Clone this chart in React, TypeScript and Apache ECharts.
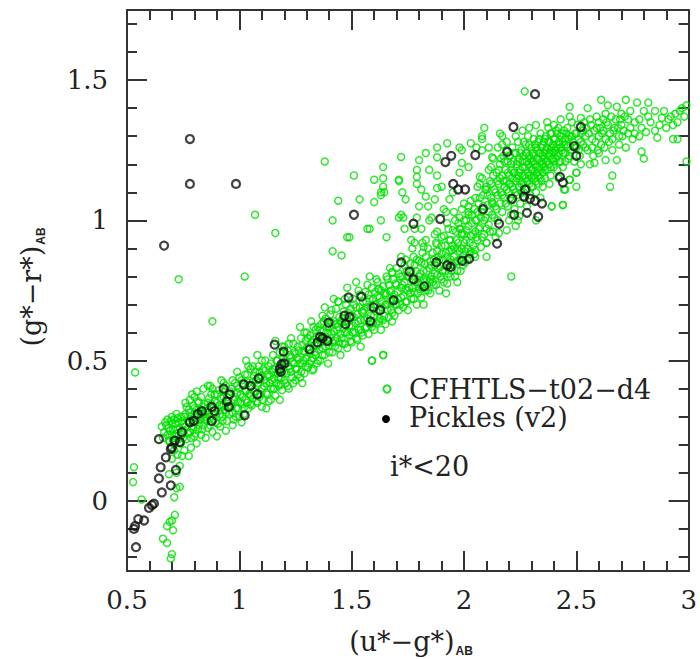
import React, { useEffect, useRef } from 'react';
import * as echarts from 'echarts';

// Axis ranges and ticks
const X_MIN = 0.5;
const X_MAX = 3;
const Y_MIN = -0.25;
const Y_MAX = 1.75;
const yMajorTicks = [0, 0.5, 1, 1.5];
const yMinorTicks = [-0.2, -0.1, 0.1, 0.2, 0.3, 0.4, 0.6, 0.7, 0.8, 0.9, 1.1, 1.2, 1.3, 1.4, 1.6, 1.7];

const legendLabels = ['CFHTLS−t02−d4', 'Pickles (v2)'];
const cutLabel = 'i*<20';

// CFHTLS-t02-d4 stars (green open circles)
const cfhtlsSteep: number[][] = [
  [0.536,0.458],[0.531,0.12],[0.527,0.067],[0.565,0.005],[0.71,0.013],[0.735,0.05],[0.72,0.045],
  [0.713,-0.05],[0.70,-0.07],[0.69,-0.075],[0.678,-0.09],[0.705,-0.105],[0.66,-0.135],[0.678,-0.15],
  [0.70,-0.19],[0.695,-0.205],[0.687,0.095],[0.72,0.10],[0.735,0.125],[0.745,0.16],[0.725,0.165],
  [0.755,0.18],[0.775,0.16],[0.785,0.19],[0.70,0.15],[0.71,0.18]
];

const cfhtlsBand: number[][] = [
  [0.655,0.265],[0.665,0.245],[0.67,0.28],[0.68,0.235],[0.685,0.26],[0.69,0.21],[0.695,0.285],[0.70,0.235],
  [0.705,0.255],[0.71,0.20],[0.715,0.275],[0.72,0.24],[0.725,0.295],[0.73,0.22],[0.735,0.26],[0.74,0.30],
  [0.745,0.235],[0.75,0.275],[0.74,0.205],[0.72,0.31],
  [0.755,0.25],[0.76,0.31],[0.765,0.22],[0.77,0.285],[0.775,0.325],[0.78,0.245],[0.785,0.30],[0.79,0.265],
  [0.795,0.34],[0.80,0.23],[0.80,0.31],[0.805,0.28],[0.81,0.325],[0.815,0.255],[0.82,0.35],[0.825,0.29],
  [0.83,0.235],[0.835,0.31],[0.84,0.27],[0.845,0.345],[0.85,0.30],[0.85,0.225],[0.81,0.205],[0.78,0.36],
  [0.83,0.37],[0.81,0.39],[0.86,0.41],[0.84,0.40],[0.79,0.38],
  [0.855,0.33],[0.86,0.26],[0.865,0.365],[0.87,0.30],[0.875,0.345],[0.88,0.245],[0.885,0.31],[0.89,0.38],
  [0.895,0.28],[0.90,0.35],[0.905,0.32],[0.91,0.395],[0.915,0.265],[0.92,0.34],[0.925,0.30],[0.93,0.37],
  [0.935,0.325],[0.94,0.41],[0.945,0.285],[0.95,0.355],[0.92,0.43],[0.88,0.40],[0.90,0.23],[0.94,0.25],
  [0.955,0.31],[0.96,0.39],[0.965,0.34],[0.97,0.43],[0.975,0.29],[0.98,0.37],[0.985,0.33],[0.99,0.41],
  [0.995,0.355],[1.00,0.30],[1.00,0.44],[1.005,0.38],[1.01,0.345],[1.015,0.42],[1.02,0.31],[1.025,0.395],
  [1.03,0.36],[1.035,0.45],[1.04,0.33],[1.045,0.41],[1.05,0.375],[1.05,0.47],[0.97,0.27],[1.03,0.50],[1.01,0.28],
  [1.055,0.34],[1.06,0.425],[1.065,0.39],[1.07,0.46],[1.075,0.355],[1.08,0.41],[1.085,0.48],[1.09,0.37],
  [1.095,0.445],[1.10,0.335],[1.10,0.40],[1.105,0.47],[1.11,0.43],[1.115,0.50],[1.12,0.385],[1.125,0.45],
  [1.13,0.355],[1.135,0.42],[1.14,0.49],[1.145,0.46],[1.15,0.40],[1.15,0.52],[1.08,0.52],[1.12,0.33],[1.14,0.36],
  [1.155,0.435],[1.16,0.375],[1.165,0.50],[1.17,0.455],[1.175,0.41],[1.18,0.53],[1.185,0.44],[1.19,0.395],
  [1.195,0.51],[1.20,0.46],[1.20,0.55],[1.205,0.42],[1.21,0.49],[1.215,0.535],[1.22,0.40],[1.225,0.47],
  [1.23,0.51],[1.235,0.44],[1.24,0.56],[1.245,0.49],[1.25,0.43],[1.25,0.525],[1.18,0.36],[1.23,0.58],[1.16,0.57],
  [1.255,0.47],[1.26,0.55],[1.265,0.505],[1.27,0.44],[1.275,0.58],[1.28,0.49],[1.285,0.535],[1.29,0.455],
  [1.295,0.57],[1.30,0.51],[1.30,0.60],[1.305,0.475],[1.31,0.55],[1.315,0.59],[1.32,0.50],[1.325,0.465],
  [1.33,0.575],[1.335,0.53],[1.34,0.61],[1.345,0.49],[1.35,0.555],[1.35,0.62],[1.28,0.42],[1.32,0.64],[1.27,0.62],
  [1.355,0.585],[1.36,0.50],[1.365,0.63],[1.37,0.545],[1.375,0.605],[1.38,0.52],[1.385,0.65],[1.39,0.575],
  [1.395,0.49],[1.40,0.62],[1.40,0.555],[1.405,0.665],[1.41,0.595],[1.415,0.53],[1.42,0.64],[1.425,0.57],
  [1.43,0.685],[1.435,0.61],[1.44,0.545],[1.445,0.655],[1.45,0.595],[1.45,0.52],[1.38,0.69],[1.42,0.72],[1.44,0.71],
  [1.455,0.635],[1.46,0.56],[1.465,0.675],[1.47,0.60],[1.475,0.70],[1.48,0.545],[1.485,0.64],[1.49,0.59],
  [1.495,0.685],[1.50,0.625],[1.50,0.565],[1.505,0.72],[1.51,0.655],[1.515,0.60],[1.52,0.69],[1.525,0.575],
  [1.53,0.64],[1.535,0.735],[1.54,0.61],[1.545,0.675],[1.55,0.59],[1.55,0.71],[1.48,0.76],[1.52,0.78],[1.54,0.55],
  [1.555,0.645],[1.56,0.745],[1.565,0.62],[1.57,0.69],[1.575,0.595],[1.58,0.72],[1.585,0.66],[1.59,0.76],
  [1.595,0.635],[1.60,0.70],[1.60,0.61],[1.605,0.745],[1.61,0.675],[1.615,0.78],[1.62,0.64],[1.625,0.725],
  [1.63,0.61],[1.635,0.69],[1.64,0.765],[1.645,0.66],[1.65,0.735],[1.65,0.63],[1.59,0.50],[1.64,0.52],[1.62,0.755],[1.58,0.80],
  [1.655,0.70],[1.66,0.79],[1.665,0.655],[1.67,0.745],[1.675,0.68],[1.68,0.815],[1.685,0.72],[1.69,0.66],
  [1.695,0.775],[1.70,0.70],[1.70,0.83],[1.705,0.745],[1.71,0.68],[1.715,0.80],[1.72,0.725],[1.725,0.77],
  [1.73,0.69],[1.735,0.84],[1.74,0.755],[1.745,0.71],[1.75,0.80],[1.75,0.68],[1.68,0.64],[1.72,0.87],
  [1.755,0.76],[1.76,0.845],[1.765,0.72],[1.77,0.79],[1.775,0.87],[1.78,0.745],[1.785,0.82],[1.79,0.70],
  [1.795,0.78],[1.80,0.855],[1.80,0.755],[1.805,0.81],[1.81,0.725],[1.815,0.885],[1.82,0.79],[1.825,0.845],
  [1.83,0.75],[1.835,0.82],[1.84,0.90],[1.845,0.78],[1.85,0.855],[1.85,0.74],[1.78,0.92],[1.82,0.70],
  [1.855,0.80],[1.86,0.885],[1.865,0.77],[1.87,0.84],[1.875,0.92],[1.88,0.805],[1.885,0.87],[1.89,0.75],
  [1.895,0.835],[1.90,0.91],[1.90,0.79],[1.905,0.86],[1.91,0.945],[1.915,0.82],[1.92,0.885],[1.925,0.775],
  [1.93,0.85],[1.935,0.93],[1.94,0.80],[1.945,0.895],[1.95,0.84],[1.95,0.965],[1.88,0.96],[1.92,0.74],
  [1.955,0.87],[1.96,0.80],[1.965,0.93],[1.97,0.855],[1.975,0.99],[1.98,0.89],[1.985,0.82],[1.99,0.95],
  [1.995,0.875],[2.00,0.92],[2.00,1.00],[2.005,0.85],[2.01,0.965],[2.015,0.90],[2.02,1.02],[2.025,0.88],
  [2.03,0.945],[2.035,0.99],[2.04,0.91],[2.045,1.04],[2.05,0.96],[2.05,0.87],[1.99,1.04],[2.03,1.07],[1.97,0.78],
  [2.055,1.0],[2.06,0.93],[2.065,1.06],[2.07,0.975],[2.075,0.905],[2.08,1.03],[2.085,1.09],[2.09,0.95],
  [2.095,1.01],[2.10,1.12],[2.10,0.92],[2.105,1.055],[2.11,0.985],[2.115,1.14],[2.12,1.08],[2.125,1.02],
  [2.13,0.96],[2.135,1.11],[2.14,1.05],[2.145,1.17],[2.15,1.00],[2.15,1.09],[2.08,1.15],[2.12,1.19],[2.06,1.12],[2.14,0.94]
];

const cfhtlsBand2: number[][] = [
  [0.66,0.225],[0.675,0.27],[0.685,0.215],[0.69,0.25],[0.70,0.275],[0.705,0.215],[0.71,0.29],[0.715,0.23],
  [0.725,0.255],[0.73,0.28],[0.735,0.205],[0.745,0.285],[0.75,0.225],[0.70,0.30],[0.68,0.29],
  [0.755,0.30],[0.76,0.265],[0.765,0.335],[0.77,0.24],[0.775,0.28],[0.78,0.315],[0.785,0.225],[0.79,0.29],
  [0.795,0.255],[0.80,0.33],[0.805,0.24],[0.81,0.295],[0.815,0.355],[0.82,0.27],[0.825,0.32],[0.83,0.30],
  [0.835,0.255],[0.84,0.335],[0.845,0.29],[0.85,0.32],[0.80,0.37],[0.76,0.35],
  [0.855,0.285],[0.86,0.35],[0.865,0.315],[0.87,0.27],[0.875,0.38],[0.88,0.33],[0.885,0.29],[0.89,0.355],
  [0.895,0.31],[0.90,0.38],[0.905,0.275],[0.91,0.34],[0.915,0.31],[0.92,0.365],[0.925,0.285],[0.93,0.34],
  [0.935,0.39],[0.94,0.315],[0.945,0.37],[0.95,0.33],[0.87,0.41],[0.93,0.42],
  [0.955,0.38],[0.96,0.335],[0.965,0.40],[0.97,0.315],[0.975,0.36],[0.98,0.42],[0.985,0.30],[0.99,0.385],
  [0.995,0.33],[1.00,0.40],[1.005,0.35],[1.01,0.43],[1.015,0.37],[1.02,0.33],[1.025,0.45],[1.03,0.39],
  [1.035,0.35],[1.04,0.42],[1.045,0.38],[1.05,0.345],[0.99,0.46],[1.04,0.48],
  [1.055,0.41],[1.06,0.365],[1.065,0.445],[1.07,0.39],[1.075,0.43],[1.08,0.35],[1.085,0.42],[1.09,0.46],
  [1.095,0.38],[1.10,0.445],[1.105,0.36],[1.11,0.41],[1.115,0.465],[1.12,0.42],[1.125,0.38],[1.13,0.48],
  [1.135,0.445],[1.14,0.40],[1.145,0.43],[1.15,0.47],[1.10,0.50],[1.06,0.48],
  [1.155,0.40],[1.16,0.47],[1.165,0.42],[1.17,0.50],[1.175,0.44],[1.18,0.48],[1.185,0.415],[1.19,0.46],
  [1.195,0.53],[1.20,0.43],[1.205,0.50],[1.21,0.455],[1.215,0.41],[1.22,0.48],[1.225,0.52],[1.23,0.46],
  [1.235,0.495],[1.24,0.42],[1.245,0.53],[1.25,0.47],[1.19,0.55],[1.22,0.56],
  [1.255,0.51],[1.26,0.45],[1.265,0.535],[1.27,0.49],[1.275,0.46],[1.28,0.555],[1.285,0.50],[1.29,0.53],
  [1.295,0.48],[1.30,0.545],[1.305,0.58],[1.31,0.49],[1.315,0.525],[1.32,0.565],[1.325,0.51],[1.33,0.47],
  [1.335,0.555],[1.34,0.52],[1.345,0.585],[1.35,0.50],[1.29,0.60],[1.33,0.62],
  [1.355,0.54],[1.36,0.61],[1.365,0.57],[1.37,0.52],[1.375,0.64],[1.38,0.585],[1.385,0.55],[1.39,0.62],
  [1.395,0.60],[1.40,0.53],[1.405,0.58],[1.41,0.635],[1.415,0.565],[1.42,0.605],[1.425,0.55],[1.43,0.63],
  [1.435,0.58],[1.44,0.62],[1.445,0.565],[1.45,0.64],[1.37,0.66],[1.41,0.68],
  [1.455,0.58],[1.46,0.65],[1.465,0.615],[1.47,0.56],[1.475,0.64],[1.48,0.60],[1.485,0.67],[1.49,0.625],
  [1.495,0.57],[1.50,0.66],[1.505,0.60],[1.51,0.70],[1.515,0.635],[1.52,0.58],[1.525,0.665],[1.53,0.61],
  [1.535,0.69],[1.54,0.645],[1.545,0.60],[1.55,0.67],[1.47,0.72],[1.53,0.75],
  [1.555,0.68],[1.56,0.615],[1.565,0.71],[1.57,0.65],[1.575,0.735],[1.58,0.63],[1.585,0.69],[1.59,0.62],
  [1.595,0.72],[1.60,0.66],[1.605,0.70],[1.61,0.635],[1.615,0.73],[1.62,0.68],[1.625,0.65],[1.63,0.75],
  [1.635,0.71],[1.64,0.645],[1.645,0.74],[1.65,0.70],[1.57,0.77],[1.61,0.79],
  [1.655,0.74],[1.66,0.68],[1.665,0.77],[1.67,0.71],[1.675,0.75],[1.68,0.67],[1.685,0.79],[1.69,0.735],
  [1.695,0.70],[1.70,0.77],[1.705,0.72],[1.71,0.81],[1.715,0.70],[1.72,0.76],[1.725,0.80],[1.73,0.73],
  [1.735,0.78],[1.74,0.71],[1.745,0.82],[1.75,0.75],[1.67,0.83],[1.74,0.86],
  [1.755,0.80],[1.76,0.74],[1.765,0.82],[1.77,0.76],[1.775,0.72],[1.78,0.84],[1.785,0.78],[1.79,0.86],
  [1.795,0.74],[1.80,0.80],[1.805,0.77],[1.81,0.85],[1.815,0.76],[1.82,0.82],[1.825,0.78],[1.83,0.87],
  [1.835,0.79],[1.84,0.75],[1.845,0.83],[1.85,0.79],[1.77,0.90],[1.83,0.93],
  [1.855,0.84],[1.86,0.78],[1.865,0.86],[1.87,0.81],[1.875,0.77],[1.88,0.89],[1.885,0.83],[1.89,0.86],
  [1.895,0.80],[1.90,0.88],[1.905,0.82],[1.91,0.78],[1.915,0.91],[1.92,0.84],[1.925,0.87],[1.93,0.81],
  [1.935,0.89],[1.94,0.86],[1.945,0.82],[1.95,0.91],[1.87,0.95],[1.93,0.97],
  [1.955,0.90],[1.96,0.85],[1.965,0.96],[1.97,0.82],[1.975,0.92],[1.98,0.86],[1.985,0.97],[1.99,0.90],
  [1.995,0.84],[2.00,0.95],[2.005,0.89],[2.01,0.93],[2.015,0.86],[2.02,0.98],[2.025,0.92],[2.03,0.89],
  [2.035,1.02],[2.04,0.95],[2.045,0.88],[2.05,1.00],[1.96,1.0],[2.02,1.05],
  [2.055,0.94],[2.06,1.03],[2.065,0.97],[2.07,1.08],[2.075,1.01],[2.08,0.94],[2.085,1.05],[2.09,1.00],
  [2.095,1.11],[2.10,0.97],[2.105,1.09],[2.11,1.03],[2.115,0.96],[2.12,1.13],[2.125,1.06],[2.13,1.16],
  [2.135,1.01],[2.14,1.10],[2.145,1.04],[2.15,1.14],[2.11,1.18],[2.13,1.22],[2.07,1.13]
];

const cfhtlsCore: number[][] = [
  [2.155,1.13],[2.16,1.06],[2.16,1.20],[2.165,1.10],[2.17,1.16],[2.17,1.03],[2.175,1.23],[2.18,1.12],
  [2.18,1.08],[2.185,1.18],[2.19,1.14],[2.19,1.25],[2.195,1.05],[2.195,1.21],[2.20,1.10],[2.20,1.16],
  [2.20,1.00],[2.19,1.28],[2.17,1.27],[2.16,1.31],
  [2.205,1.13],[2.205,1.23],[2.21,1.07],[2.21,1.18],[2.215,1.15],[2.215,1.26],[2.22,1.11],[2.22,1.21],
  [2.225,1.04],[2.225,1.17],[2.23,1.14],[2.23,1.24],[2.235,1.09],[2.235,1.20],[2.24,1.16],[2.24,1.28],
  [2.245,1.12],[2.245,1.22],[2.25,1.06],[2.25,1.18],[2.25,1.14],[2.23,1.30],[2.21,1.02],[2.24,1.00],
  [2.255,1.25],[2.255,1.10],[2.26,1.16],[2.26,1.21],[2.265,1.13],[2.265,1.28],[2.27,1.08],[2.27,1.19],
  [2.275,1.15],[2.275,1.24],[2.28,1.11],[2.28,1.21],[2.285,1.17],[2.285,1.30],[2.29,1.13],[2.29,1.23],
  [2.295,1.09],[2.295,1.19],[2.30,1.15],[2.30,1.26],[2.30,1.21],[2.28,1.05],[2.26,1.32],[2.29,1.33],
  [2.305,1.12],[2.305,1.18],[2.31,1.23],[2.31,1.29],[2.315,1.15],[2.315,1.20],[2.32,1.10],[2.32,1.26],
  [2.325,1.17],[2.325,1.22],[2.33,1.13],[2.33,1.28],[2.335,1.19],[2.335,1.24],[2.34,1.15],[2.34,1.31],
  [2.345,1.21],[2.345,1.26],[2.35,1.17],[2.35,1.23],[2.35,1.12],[2.32,1.34],[2.34,1.08],
  [2.355,1.28],[2.355,1.19],[2.36,1.24],[2.36,1.15],[2.365,1.30],[2.365,1.21],[2.37,1.26],[2.37,1.18],
  [2.375,1.23],[2.375,1.33],[2.38,1.20],[2.38,1.28],[2.385,1.25],[2.385,1.16],[2.39,1.22],[2.39,1.31],
  [2.395,1.27],[2.40,1.19],[2.40,1.24],[2.40,1.34],[2.38,1.13],[2.37,1.35],
  [2.405,1.29],[2.41,1.22],[2.41,1.26],[2.415,1.31],[2.415,1.18],[2.42,1.24],[2.42,1.33],[2.425,1.27],
  [2.43,1.21],[2.43,1.30],[2.435,1.25],[2.44,1.28],[2.44,1.19],[2.445,1.32],[2.45,1.24],[2.45,1.29],
  [2.43,1.36],[2.42,1.15],
  [2.455,1.27],[2.46,1.33],[2.465,1.22],[2.47,1.30],[2.475,1.25],[2.48,1.35],[2.485,1.28],[2.49,1.21],
  [2.495,1.31],[2.50,1.26],[2.505,1.34],[2.51,1.29],[2.515,1.23],[2.52,1.31],[2.53,1.27],[2.535,1.35],
  [2.54,1.30],[2.55,1.25],[2.545,1.33],[2.47,1.405],[2.47,1.37],[2.52,1.365],[2.50,1.17],[2.45,1.11],
  [2.44,1.055],[2.39,1.05],[2.47,1.145],[2.5,1.12],[2.52,1.20]
];

const cfhtlsCore2: number[][] = [
  [2.155,1.18],[2.16,1.15],[2.165,1.22],[2.17,1.09],[2.175,1.14],[2.18,1.21],[2.185,1.06],[2.19,1.11],
  [2.195,1.17],[2.20,1.23],[2.20,1.13],[2.205,1.08],[2.21,1.20],[2.215,1.12],[2.22,1.17],[2.225,1.24],
  [2.23,1.10],[2.235,1.15],[2.24,1.21],[2.245,1.17],[2.25,1.24],[2.255,1.13],[2.26,1.19],[2.265,1.10],
  [2.265,1.23],[2.27,1.16],[2.275,1.27],[2.28,1.14],[2.28,1.24],[2.285,1.20],[2.29,1.16],[2.29,1.27],
  [2.295,1.22],[2.30,1.12],[2.30,1.18],[2.305,1.24],[2.31,1.16],[2.31,1.21],[2.315,1.27],[2.32,1.14],
  [2.32,1.19],[2.325,1.25],[2.33,1.16],[2.33,1.22],[2.335,1.29],[2.34,1.18],[2.34,1.24],[2.345,1.14],
  [2.35,1.20],[2.35,1.27],[2.355,1.22],[2.36,1.18],[2.36,1.29],[2.365,1.25],[2.37,1.21],[2.375,1.28],
  [2.38,1.24],[2.385,1.19],[2.385,1.31],[2.39,1.26],[2.395,1.22],[2.40,1.29],[2.40,1.21],[2.405,1.25],
  [2.41,1.32],[2.415,1.23],[2.42,1.28],[2.425,1.21],[2.43,1.26],[2.435,1.31],[2.44,1.24],[2.445,1.27],
  [2.45,1.21],[2.455,1.31],[2.46,1.26],[2.465,1.29],[2.47,1.23],[2.48,1.30],[2.49,1.26],[2.50,1.31],
  [2.51,1.25],[2.52,1.28],[2.53,1.32],[2.54,1.26]
];

const cfhtlsTail: number[][] = [
  [2.56,1.20],[2.58,1.205],[2.6,1.24],[2.59,1.37],[2.59,1.33],[2.62,1.36],[2.63,1.215],[2.65,1.12],
  [2.66,1.16],[2.68,1.215],[2.68,1.405],[2.7,1.38],[2.72,1.43],[2.72,1.26],[2.75,1.29],[2.77,1.42],
  [2.76,1.31],[2.79,1.245],[2.8,1.22],[2.79,1.33],[2.8,1.39],[2.81,1.315],[2.85,1.39],[2.86,1.295],
  [2.88,1.365],[2.89,1.39],[2.92,1.37],[2.93,1.34],[2.93,1.29],[2.95,1.29],[2.96,1.39],[2.97,1.40],
  [2.99,1.41],[2.99,1.21],[2.57,1.29],[2.58,1.32],[2.60,1.30],[2.61,1.27],[2.62,1.32],[2.63,1.29],
  [2.64,1.34],[2.65,1.31],[2.66,1.25],[2.67,1.33],[2.69,1.30],[2.70,1.34],[2.71,1.32],[2.73,1.36],
  [2.74,1.33],[2.56,1.36],[2.57,1.26],[2.60,1.35],[2.63,1.38],[2.66,1.29],[2.69,1.27],[2.74,1.39],
  [2.78,1.36],[2.83,1.35],[2.85,1.32],[2.9,1.33],[2.95,1.35],[2.98,1.37],[2.55,1.40],[2.64,1.41],
  [2.61,1.43],[2.82,1.42],
  [2.555,1.31],[2.565,1.34],[2.575,1.23],[2.585,1.28],[2.595,1.25],[2.605,1.33],[2.615,1.31],[2.625,1.26],
  [2.635,1.35],[2.645,1.28],[2.655,1.37],[2.665,1.32],[2.675,1.36],[2.685,1.33],[2.695,1.36],[2.705,1.30],
  [2.715,1.37],[2.73,1.31],[2.76,1.35],[2.78,1.30],[2.82,1.37],[2.87,1.34],[2.91,1.36],[2.94,1.38]
];

const cfhtlsScatter: number[][] = [
  [1.72,1.226],[1.64,1.15],[1.645,1.10],[1.71,1.145],[1.725,1.10],[1.79,1.18],[1.79,1.155],[1.845,1.18],
  [1.81,1.11],[1.83,1.085],[1.87,1.075],[1.88,1.115],[1.80,1.05],[1.72,1.02],[1.78,0.97],[1.765,0.93],
  [1.815,0.92],[1.845,1.0],[1.91,1.04],[1.955,1.03],[1.925,0.99],[2.0,1.06],[2.02,1.03],[1.98,0.97],
  [1.94,0.93],[1.97,0.90],[1.88,0.915],[1.99,1.205],[1.99,1.25],[2.03,1.275],[2.08,1.30],[2.11,1.26],
  [2.02,1.19],[2.07,1.155],[2.10,1.11],[2.05,1.08],[2.125,1.065],[1.655,0.80],[1.62,0.755],[1.68,0.815],
  [2.21,0.80],[2.10,0.87],[2.05,0.895],[2.10,0.92],[2.155,0.955],[2.19,0.965],[2.23,0.98],[2.245,1.015],
  [2.32,1.0],[2.39,1.05],[2.44,1.055],[2.445,1.11],[2.47,1.145],[2.5,1.17],
  [1.38,1.21],[1.44,1.07],[1.415,1.0],[1.415,0.89],[1.455,0.875],[1.48,0.94],[1.07,1.02],[1.16,0.955],
  [1.024,0.80],[0.73,0.79],[0.88,0.64],[1.44,0.71],[1.51,1.16],[1.63,1.10],[1.6,1.065],[1.57,0.97],
  [1.49,0.94],[1.71,1.01],[1.59,0.50],[1.64,0.52],[2.27,1.46],
  [1.79,1.13],[1.88,1.16],[1.98,1.17],[2.08,1.29],[2.09,1.33],[2.17,1.30],[2.15,1.26],[1.71,1.14],
  [1.63,1.09],[1.64,1.12],[1.74,1.075],[1.84,1.05],[1.855,1.01],[1.92,1.03],[1.79,1.01],[1.81,0.97],
  [1.73,1.01],[1.735,0.97],[1.63,1.0],[1.655,0.94],[1.58,0.97],[1.82,0.905],[1.90,0.94],[1.99,0.955],
  [2.01,1.0],[1.98,1.01],[1.935,1.075],[1.95,1.10],[1.90,1.12],[1.64,1.19],[1.60,1.145],[1.535,1.075],
  [1.80,1.215],[1.83,1.24],[1.88,1.225],[1.88,1.26],[1.925,1.275],[1.98,1.26],[2.055,1.26],[2.08,1.25],[2.125,1.225]
];

const cfhtls: number[][] = [
  ...cfhtlsSteep, ...cfhtlsBand, ...cfhtlsBand2, ...cfhtlsCore, ...cfhtlsCore2, ...cfhtlsTail, ...cfhtlsScatter
];

// Pickles (v2) stellar library (black circles)
const pickles: number[][] = [
  [0.78,1.29],[0.78,1.13],[0.985,1.13],[0.665,0.91],
  [0.536,-0.09],[0.531,-0.10],[0.54,-0.165],[0.55,-0.065],[0.576,-0.07],[0.598,-0.025],[0.611,-0.015],
  [0.62,-0.01],[0.655,0.03],[0.695,0.055],[0.642,0.08],[0.718,0.11],[0.65,0.12],[0.673,0.155],[0.695,0.185],
  [0.70,0.19],[0.642,0.22],[0.735,0.21],[0.713,0.215],[0.744,0.245],[0.78,0.28],[0.797,0.285],[0.815,0.31],
  [0.833,0.32],[0.877,0.285],[0.877,0.335],[0.89,0.32],[0.944,0.355],[0.953,0.335],[0.93,0.40],[0.957,0.38],
  [1.02,0.415],[1.05,0.41],[1.086,0.437],[1.08,0.38],[1.024,0.305],[1.184,0.46],[1.18,0.47],[1.188,0.487],
  [1.20,0.49],[1.157,0.557],[1.197,0.532],[1.313,0.54],[1.348,0.565],[1.36,0.585],[1.37,0.58],[1.392,0.57],
  [1.397,0.635],[1.468,0.66],[1.49,0.655],[1.472,0.63],[1.486,0.725],[1.543,0.728],[1.583,0.64],[1.597,0.69],
  [1.627,0.68],[1.686,0.715],[1.72,0.85],[1.757,0.817],[1.775,0.79],[1.823,0.765],[1.877,0.85],[1.925,0.84],
  [1.94,0.834],[1.992,0.856],[2.023,0.863],[2.147,0.917],[1.775,0.988],[1.894,1.005],[1.51,1.02],[2.085,1.04],
  [2.156,0.988],[2.223,1.02],[2.28,1.027],[2.33,1.013],[2.214,1.077],[2.267,1.085],[2.294,1.077],[2.316,1.07],
  [2.347,1.06],[2.272,1.11],[1.952,1.13],[1.974,1.11],[2.005,1.11],[1.917,1.208],[1.943,1.23],[2.05,1.233],
  [2.192,1.244],[2.427,1.155],[2.44,1.135],[2.49,1.265],[2.50,1.23],[2.22,1.333],[2.52,1.333],[2.316,1.45]
];

export default function App() {
  const ref = useRef<HTMLDivElement>(null);
  useEffect(() => {
    if (!ref.current) return;
    const chart = echarts.init(ref.current, null, { renderer: 'svg' });
    const frame = '#333';
    const axisLine = { show: true, onZero: false, lineStyle: { color: frame, width: 2 } };
    const noLine = { show: false, onZero: false };
    const labelFont = { fontFamily: 'DejaVu Serif', fontSize: 26, color: '#222' };
    const majorTick = { show: true, inside: true, length: 20, lineStyle: { color: frame, width: 2 } };
    const minorTick = { show: true, splitNumber: 5, length: 10, lineStyle: { color: frame, width: 2 } };
    const serif = 'DejaVu Serif';
    const titleRich = {
      a: { fontFamily: serif, fontSize: 27, lineHeight: 32, fill: '#222' },
      b: { fontFamily: 'Liberation Sans', fontWeight: 'bold', fontSize: 12, lineHeight: 32, verticalAlign: 'bottom', fill: '#222', padding: [6, 0, 0, 1] },
    };
    chart.setOption({
      animation: false,
      grid: { left: 127, right: 10, top: 10, bottom: 88 },
      xAxis: [
        {
          type: 'value', position: 'bottom', min: X_MIN, max: X_MAX, interval: 0.5,
          axisLine, axisTick: majorTick, minorTick, splitLine: { show: false }, minorSplitLine: { show: false },
          axisLabel: { ...labelFont, margin: 16, showMinLabel: true, showMaxLabel: true },
        },
        {
          type: 'value', position: 'top', min: X_MIN, max: X_MAX, interval: 0.5,
          axisLine, axisTick: majorTick, minorTick, splitLine: { show: false }, minorSplitLine: { show: false },
          axisLabel: { show: false },
        },
      ],
      yAxis: [
        {
          type: 'value', position: 'left', min: Y_MIN, max: Y_MAX,
          axisLine, splitLine: { show: false },
          axisTick: { ...majorTick, customValues: yMajorTicks },
          axisLabel: { ...labelFont, margin: 19, customValues: yMajorTicks },
        },
        {
          type: 'value', position: 'left', min: Y_MIN, max: Y_MAX,
          axisLine: noLine, splitLine: { show: false },
          axisTick: { show: true, inside: true, length: 10, lineStyle: { color: frame, width: 2 }, customValues: yMinorTicks },
          axisLabel: { show: false },
        },
        {
          type: 'value', position: 'right', min: Y_MIN, max: Y_MAX,
          axisLine, splitLine: { show: false },
          axisTick: { ...majorTick, customValues: yMajorTicks },
          axisLabel: { show: false },
        },
        {
          type: 'value', position: 'right', min: Y_MIN, max: Y_MAX,
          axisLine: noLine, splitLine: { show: false },
          axisTick: { show: true, inside: true, length: 10, lineStyle: { color: frame, width: 2 }, customValues: yMinorTicks },
          axisLabel: { show: false },
        },
      ],
      series: [
        {
          name: legendLabels[0], type: 'scatter', data: cfhtls, symbol: 'circle', symbolSize: 7,
          itemStyle: { color: 'rgba(0,0,0,0)', borderColor: '#00e000', borderWidth: 1.5 },
          silent: true,
        },
        {
          name: legendLabels[1], type: 'scatter', data: pickles, symbol: 'circle', symbolSize: 8,
          itemStyle: { color: 'rgba(0,0,0,0)', borderColor: '#111', borderWidth: 2.2 },
          silent: true,
        },
      ],
      graphic: [
        { type: 'circle', shape: { cx: 387, cy: 389, r: 3.6 }, style: { fill: 'none', stroke: '#22dd22', lineWidth: 2 } },
        { type: 'text', x: 409, y: 389, style: { text: legendLabels[0], font: `27px "${serif}"`, fill: '#222', textVerticalAlign: 'middle' } },
        { type: 'circle', shape: { cx: 386, cy: 419, r: 4 }, style: { fill: '#000' } },
        { type: 'text', x: 409, y: 417, style: { text: legendLabels[1], font: `27px "${serif}"`, fill: '#222', textVerticalAlign: 'middle' } },
        { type: 'text', x: 390, y: 466, style: { text: cutLabel, font: `27px "${serif}"`, fill: '#222', textVerticalAlign: 'middle' } },
        {
          type: 'text', x: 411, y: 641,
          style: { text: '{a|(u*−g*)}{b|AB}', textAlign: 'center', textVerticalAlign: 'middle', rich: titleRich },
        },
        {
          type: 'text', x: 31, y: 287, rotation: Math.PI / 2,
          style: { text: '{a|(g*−r*)}{b|AB}', textAlign: 'center', textVerticalAlign: 'middle', rich: titleRich },
        },
      ],
    });
    return () => chart.dispose();
  }, []);
  return <div ref={ref} style={{ position: 'fixed', left: 0, top: 0, width: 700, height: 659, background: '#fff' }} />;
}
